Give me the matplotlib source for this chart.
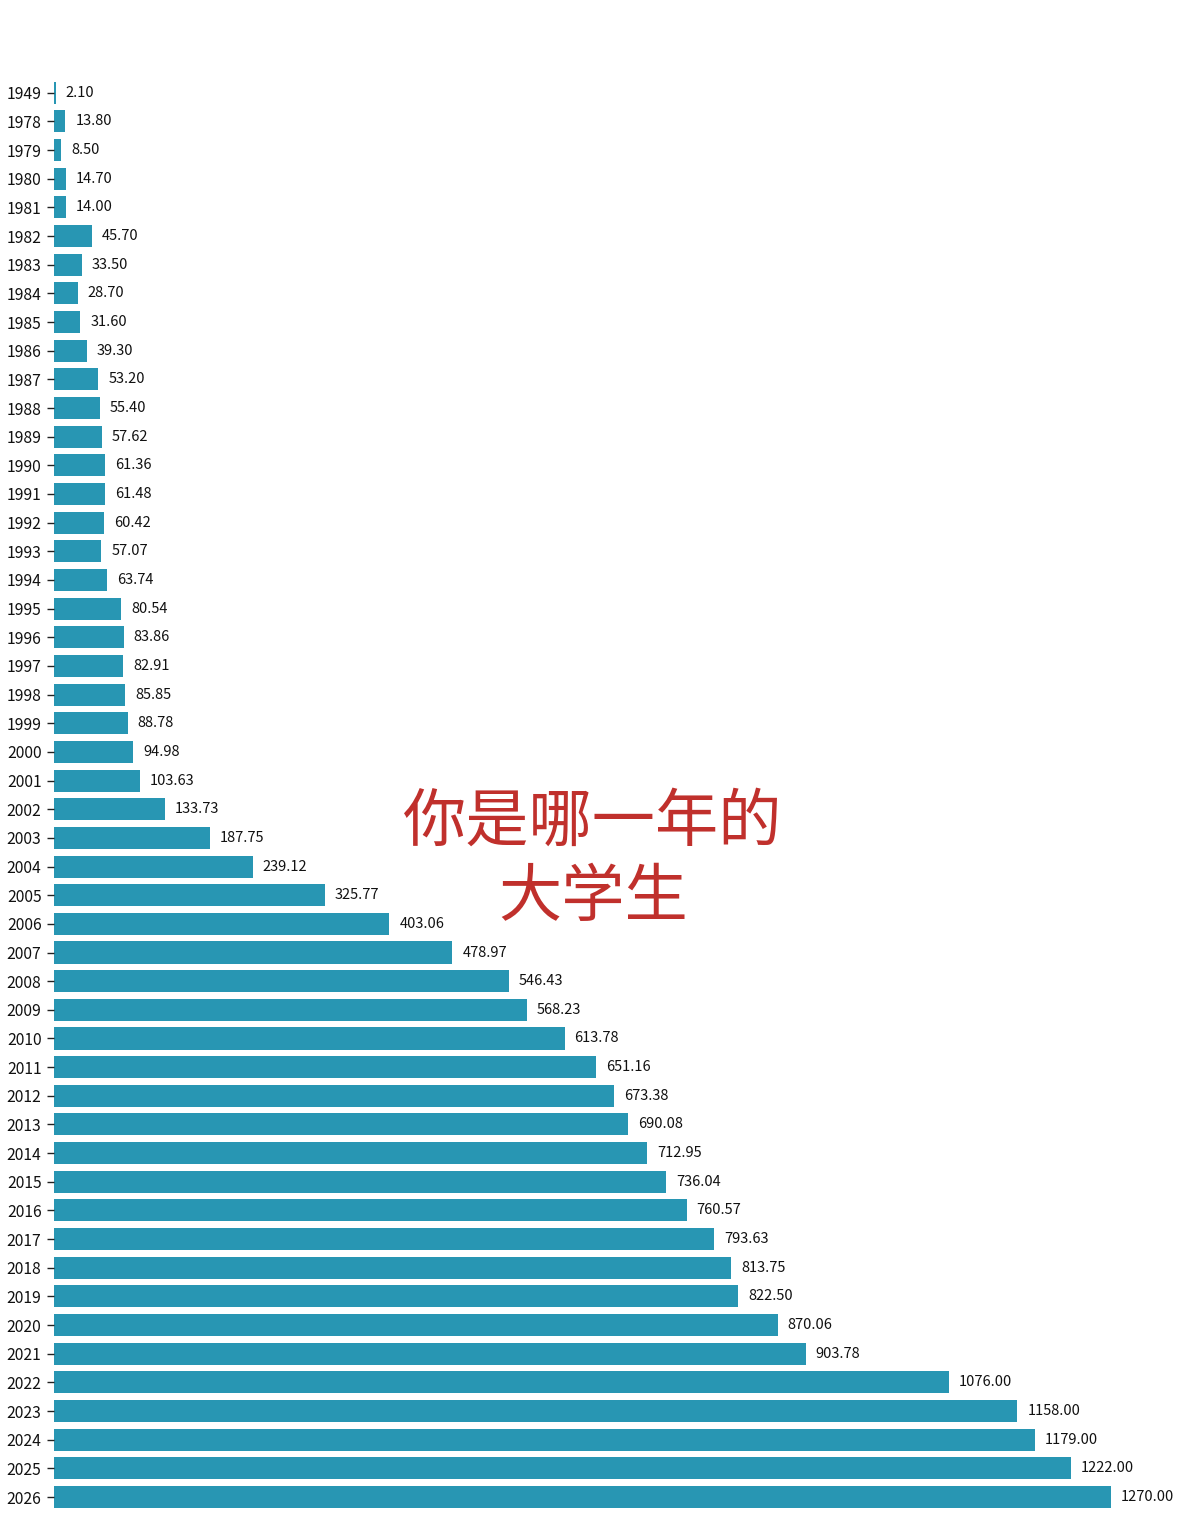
import matplotlib
matplotlib.use("Agg")
import matplotlib.pyplot as plt

plt.rcParams['font.family'] = ['Noto Sans CJK SC', 'DejaVu Sans']

years = ["1949", "1978", "1979", "1980", "1981", "1982", "1983", "1984", "1985", "1986",
         "1987", "1988", "1989", "1990", "1991", "1992", "1993", "1994", "1995", "1996",
         "1997", "1998", "1999", "2000", "2001", "2002", "2003", "2004", "2005", "2006",
         "2007", "2008", "2009", "2010", "2011", "2012", "2013", "2014", "2015", "2016",
         "2017", "2018", "2019", "2020", "2021", "2022", "2023", "2024", "2025", "2026"]
values = [2.10, 13.80, 8.50, 14.70, 14.00, 45.70, 33.50, 28.70, 31.60, 39.30,
          53.20, 55.40, 57.62, 61.36, 61.48, 60.42, 57.07, 63.74, 80.54, 83.86,
          82.91, 85.85, 88.78, 94.98, 103.63, 133.73, 187.75, 239.12, 325.77, 403.06,
          478.97, 546.43, 568.23, 613.78, 651.16, 673.38, 690.08, 712.95, 736.04, 760.57,
          793.63, 813.75, 822.50, 870.06, 903.78, 1076.00, 1158.00, 1179.00, 1222.00, 1270.00]
title_lines = ["你是哪一年的", "大学生"]

fig = plt.figure(figsize=(11.86, 15.26), dpi=100)
ax = fig.add_axes([0.0455, 0.0096, 0.954, 0.939])

pos = list(range(len(years)))
ax.barh(pos, values, height=0.77, color="#2896b3")
for p, v in zip(pos, values):
    ax.text(v + 12, p, f"{v:.2f}", va="center", ha="left", fontsize=10.5, color="#111111")

ax.set_yticks(pos)
ax.set_yticklabels(years, fontsize=11.3, color="#111111")
ax.set_ylim(len(years) - 0.5, -0.5)
ax.set_xlim(0, 1360)
ax.tick_params(axis="y", length=5, width=1, color="#222222", pad=4)
ax.tick_params(axis="x", bottom=False, labelbottom=False)
for s in ax.spines.values():
    s.set_visible(False)

fig.text(0.5, 1 - 823 / 1526, title_lines[0], ha="center", va="center",
         fontsize=45.5, color="#c0302c", fontweight="medium")
fig.text(0.5, 1 - 898 / 1526, title_lines[1], ha="center", va="center",
         fontsize=45.5, color="#c0302c", fontweight="medium")

fig.savefig("out.png", dpi=100, facecolor="white")
